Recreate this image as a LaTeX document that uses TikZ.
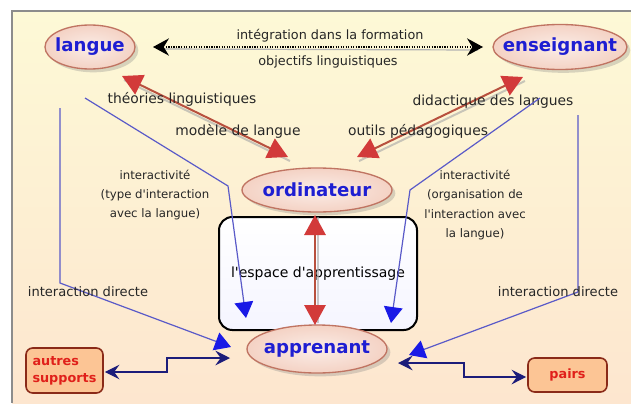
\documentclass[tikz,border=0pt]{standalone}
\usepackage{fontspec}
\setmainfont{DejaVu Sans}
\usetikzlibrary{arrows.meta,shadows,calc,shapes.geometric}
\newlength\pxu
\setlength\pxu{0.75pt}
\newcommand\sq{\textquotesingle}
\definecolor{bgtop}{HTML}{FDF9D6}
\definecolor{bgbot}{HTML}{FDE6CF}
\definecolor{nodeblue}{HTML}{1E1ED2}
\definecolor{ellfill}{HTML}{F4D2C4}
\definecolor{elldraw}{HTML}{C07462}
\definecolor{redline}{HTML}{B8503E}
\definecolor{redhead}{HTML}{D23A3A}
\definecolor{blueline}{HTML}{5A5AC8}
\definecolor{bluehead}{HTML}{1A1AE6}
\definecolor{navy}{HTML}{1C1C7A}
\definecolor{boxfill}{HTML}{FCC595}
\definecolor{boxdraw}{HTML}{8A2A18}
\definecolor{boxtext}{HTML}{E0201A}
\definecolor{frame}{HTML}{8C8C8C}
\begin{document}
\begin{tikzpicture}[x=0.75pt,y=-0.75pt,
  ell/.style={ellipse, draw=elldraw, line width=1pt, inner color=white!60!ellfill, outer color=ellfill,
    drop shadow={shadow xshift=2.5pt, shadow yshift=-2.5pt, opacity=0.3}, inner sep=0pt},
  elltxt/.style={text=nodeblue, font=\bfseries\fontsize{13.6}{16}\selectfont},
  lab/.style={text=black!85, font=\fontsize{10.4}{12}\selectfont},
  toplab/.style={text=black!85, font=\fontsize{9.6}{12}\selectfont},
  intlab/.style={text=black!85, font=\fontsize{8.8}{14.6}\selectfont, align=center},
  dirlab/.style={text=black!85, font=\fontsize{9.8}{12}\selectfont},
  suppbox/.style={draw=boxdraw, line width=1.2pt, fill=boxfill, rounded corners=5pt, text=boxtext,
    font=\bfseries\fontsize{9.6}{12.5}\selectfont, inner sep=0pt},
  espbox/.style={draw=black, line width=1.5pt, rounded corners=10pt, top color=white, bottom color=blue!4,
    font=\fontsize{10.5}{12}\selectfont},
  redarr/.style={draw=redline, line width=1.5pt,
    {Triangle[length=15pt,width=16pt,color=redhead]}-{Triangle[length=15pt,width=16pt,color=redhead]}},
  redshadow/.style={draw=black!35, line width=1.5pt, opacity=0.6},
  bluearr/.style={draw=blueline, line width=0.9pt, -{Triangle[length=12pt,width=14pt,color=bluehead]}},
  navyarr/.style={draw=navy, line width=0.9pt,
    {Stealth[length=11pt,width=11pt,inset=4pt,color=navy]}-{Stealth[length=11pt,width=11pt,inset=4pt,color=navy]}},
  dotarr/.style={draw=black, line width=0.9pt, densely dotted,
    {Stealth[length=12pt,width=13pt,inset=4pt,color=black]}-{Stealth[length=12pt,width=13pt,inset=4pt,color=black]}}
]
% background
\useasboundingbox (0,0) rectangle (631,403);
\fill[white] (0,0) rectangle (631,403);
\shade[top color=bgtop, bottom color=bgbot] (12,11) rectangle (631,403);
\draw[frame, line width=1.5pt] (12,403) -- (12,11) -- (631,11);

% learning space box
\node[espbox, minimum width=198\pxu, minimum height=113\pxu] (esp) at (318,273.5) {l\sq espace d\sq apprentissage};

% ellipses
\node[ell, minimum width=90\pxu, minimum height=44\pxu, label={[elltxt]center:langue}] (lang) at (90,47) {};
\node[ell, minimum width=134\pxu, minimum height=45\pxu, label={[elltxt]center:enseignant}] (ens) at (560,47) {};
\node[ell, minimum width=150\pxu, minimum height=44\pxu, label={[elltxt]center:ordinateur}] (ord) at (317,190) {};
\node[ell, minimum width=140\pxu, minimum height=48\pxu, label={[elltxt]center:apprenant}] (app) at (317,349) {};

% side boxes
\node[suppbox, minimum width=77\pxu, minimum height=45\pxu, text width=64\pxu, align=left] (aut) at (64.5,370.5) {autres\\supports};
\node[suppbox, minimum width=79\pxu, minimum height=34\pxu] (pai) at (567.5,375) {pairs};

% dotted double arrow
\draw[draw=black!30, line width=0.9pt] ([shift={(70,2)}]lang.center) -- ([shift={(-82,3)}]ens.center);
\draw[dotarr] ([shift={(63,0)}]lang.center) -- ([shift={(-77,0)}]ens.center);
\node[toplab] (integ) at (330,36) {intégration dans la formation};
\node[toplab] (objl) at (328,62) {objectifs linguistiques};

% red arrows
\draw[redshadow] ([shift={(34,33)}]lang.center) -- ([shift={(-27,-29)}]ord.center);
\draw[redarr] ([shift={(32,29)}]lang.center) -- ([shift={(-29,-33)}]ord.center);
\draw[redshadow] ([shift={(-35,34)}]ens.center) -- ([shift={(42,-29)}]ord.center);
\draw[redarr] ([shift={(-37,30)}]ens.center) -- ([shift={(40,-33)}]ord.center);
\draw[redshadow] ([shift={(1,27)}]ord.center) -- ([shift={(1,-26)}]app.center);
\draw[redarr] ([shift={(-2,25)}]ord.center) -- ([shift={(-2,-24)}]app.center);

\node[lab] (theo) at (182,99) {théories linguistiques};
\node[lab] (model) at (238,131) {modèle de langue};
\node[lab] (didac) at (493,102) {didactique des langues};
\node[lab] (outils) at (418,131) {outils pédagogiques};

% blue interaction arrows
\coordinate (bl1) at (60,108);
\coordinate (bl2) at (85,98);
\coordinate (br2) at (540,98);
\coordinate (br1) at (578,115);
\draw[bluearr] (bl1) -- (60,283) -- ([shift={(-86,-2)}]app.center);
\draw[bluearr] (bl2) -- (228,186) -- ([shift={(-71,-31)}]app.center);
\draw[bluearr] (br2) -- (410,190) -- ([shift={(74,-26)}]app.center);
\draw[bluearr] (br1) -- (578,292) -- ([shift={(92,6)}]app.center);

\node[intlab] (intl) at (155,195) {interactivité\\(type d\sq interaction\\avec la langue)};
\node[intlab] (intr) at (475,205) {interactivité\\(organisation de\\l\sq interaction avec\\la langue)};
\node[dirlab] (dirl) at (88,292) {interaction directe};
\node[dirlab] (dirr) at (558,292) {interaction directe};

% navy connectors
\draw[navyarr] ([shift={(1,1.5)}]aut.east) -- (167,372) -- (167,358) -- ([shift={(-87,9)}]app.center);
\draw[navyarr] ([shift={(81,14)}]app.center) -- (464,363) -- (464,377) -- ([shift={(-1,2)}]pai.west);
\end{tikzpicture}
\end{document}
